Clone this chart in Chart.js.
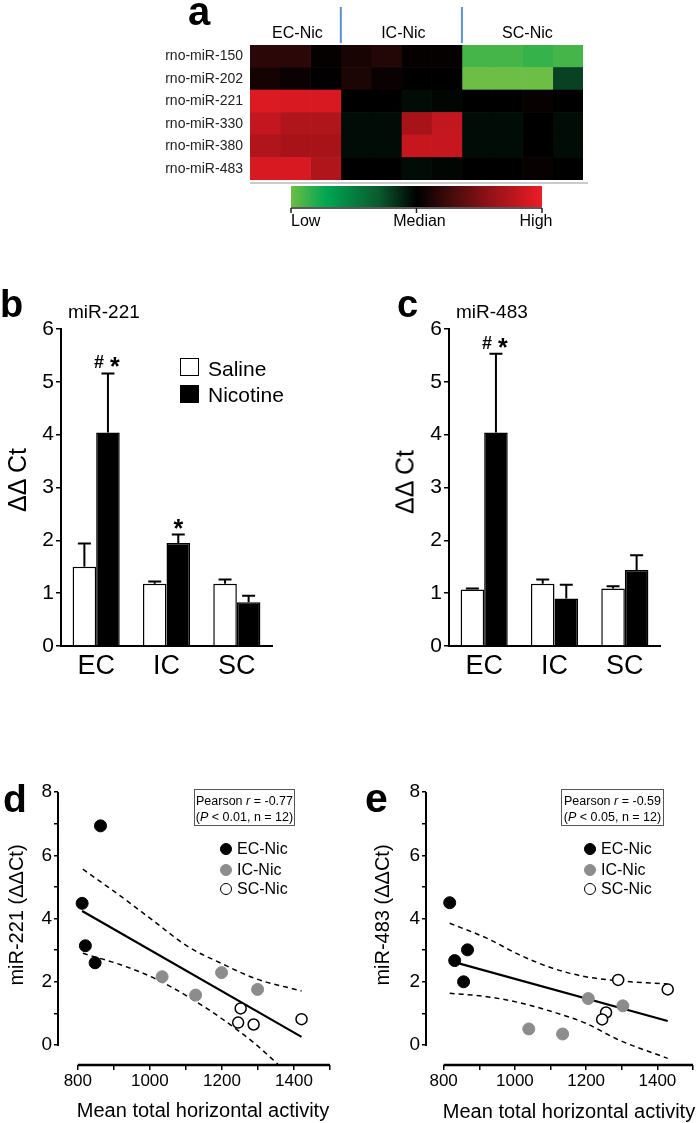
<!DOCTYPE html>
<html>
<head>
<meta charset="utf-8">
<title>miR-221 / miR-483 after nicotine</title>
<script src="https://cdn.jsdelivr.net/npm/chart.js@4.4.1/dist/chart.umd.min.js"></script>
<style>
  body { margin: 0; background: #fff; }
  #page { position: relative; width: 700px; height: 1123px; overflow: hidden;
          font-family: "Liberation Sans", Arial, Helvetica, sans-serif; color: #000; }
  #page canvas { position: absolute; }
  .t { position: absolute; white-space: nowrap; }
  .pbox { position: absolute; border: 1px solid #555; text-align: center; font-size: 12.5px;
          line-height: 16px; box-sizing: border-box; padding-top: 3px; white-space: nowrap; }
</style>
</head>
<body>
<div id="page">
  <canvas id="heat" width="500" height="235" style="left:100px;top:0px"></canvas>
  <canvas id="bar221" width="300" height="390" style="left:0px;top:300px"></canvas>
  <canvas id="bar483" width="330" height="390" style="left:360px;top:300px"></canvas>
  <canvas id="sc221" width="345" height="330" style="left:0px;top:770px"></canvas>
  <canvas id="sc483" width="340" height="330" style="left:360px;top:770px"></canvas>
</div>
<script>
// ---------- a: heatmap ----------
const mirnas = ['rno-miR-150', 'rno-miR-202', 'rno-miR-221', 'rno-miR-330', 'rno-miR-380', 'rno-miR-483'];
const heatGroups = ['EC-Nic', 'IC-Nic', 'SC-Nic'];
const heatGroupCols = [3, 4, 4];
// -1 = low, 0 = median, 1 = high (one value per column)
const heat150 = [0.18, 0.18, 0.02, 0.10, 0.14, 0.02, 0.02, -0.9, -0.9, -0.86, -0.9];
const heat202 = [0.08, 0.04, 0.01, 0.12, 0.04, 0, 0, -1, -1, -1, -0.22];
const heat221 = [0.92, 0.9, 0.9, 0, 0, -0.04, -0.02, 0, 0, 0.03, 0];
const heat330 = [0.8, 0.72, 0.72, -0.04, -0.04, 0.68, 0.8, -0.04, -0.04, 0, -0.04];
const heat380 = [0.72, 0.68, 0.68, -0.04, -0.04, 0.82, 0.82, -0.04, -0.04, 0, -0.04];
const heat483 = [0.9, 0.9, 0.72, 0, 0, -0.04, -0.02, 0, 0, 0.03, 0];
const heatScaleLabels = ['Low', 'Median', 'High'];

// ---------- b, c: bar charts ----------
const regions = ['EC', 'IC', 'SC'];
const barTicks = [0, 1, 2, 3, 4, 5, 6];
const b_saline = [1.50, 1.18, 1.18];
const b_salineSem = [0.44, 0.04, 0.08];
const b_nicotine = [4.04, 1.95, 0.83];
const b_nicotineSem = [1.12, 0.16, 0.12];
const b_marks = ['#*', '*', ''];
const c_saline = [1.07, 1.18, 1.09];
const c_salineSem = [0.02, 0.08, 0.04];
const c_nicotine = [4.04, 0.90, 1.44];
const c_nicotineSem = [1.49, 0.26, 0.28];
const c_marks = ['#*', '', ''];

// ---------- d, e: correlations ----------
const xTicks = [800, 900, 1000, 1100, 1200, 1300, 1400, 1500];
const xTickLabels = ['800', '', '1000', '', '1200', '', '1400', ''];
const yTicks = [0, 1, 2, 3, 4, 5, 6, 7, 8];
const yTickLabels = ['0', '', '2', '', '4', '', '6', '', '8'];

const d_ecX = [863, 812, 821, 848];
const d_ecY = [6.93, 4.48, 3.14, 2.60];
const d_icX = [1034, 1127, 1199, 1299];
const d_icY = [2.16, 1.58, 2.29, 1.76];
const d_scX = [1252, 1245, 1288, 1421];
const d_scY = [1.16, 0.71, 0.65, 0.82];
const d_fitX = [812, 1421];
const d_fitY = [4.24, 0.26];
const d_upperX = [814, 921, 1013, 1106, 1199, 1291, 1421];
const d_upperY = [5.56, 4.69, 3.90, 3.11, 2.58, 2.11, 1.71];
const d_lowerX = [814, 921, 1013, 1106, 1199, 1291, 1355];
const d_lowerY = [2.90, 2.53, 2.11, 1.53, 0.84, 0.05, -0.60];

const e_ecX = [817, 831, 867, 856];
const e_ecY = [4.50, 2.67, 3.01, 2.00];
const e_icX = [1039, 1134, 1206, 1303];
const e_icY = [0.51, 0.35, 1.47, 1.24];
const e_scX = [1290, 1429, 1256, 1245];
const e_scY = [2.06, 1.76, 1.03, 0.81];
const e_fitX = [817, 1429];
const e_fitY = [2.66, 0.76];
const e_upperX = [817, 921, 1013, 1106, 1199, 1292, 1429];
const e_upperY = [3.85, 3.38, 2.85, 2.43, 2.16, 2.03, 1.93];
const e_lowerX = [817, 921, 1013, 1106, 1199, 1292, 1429];
const e_lowerY = [1.64, 1.53, 1.34, 1.05, 0.69, 0.16, -0.42];

const FONT = '"Liberation Sans", Arial, Helvetica, sans-serif';
Chart.defaults.font.family = FONT;
Chart.defaults.color = '#000';

const page = document.getElementById('page');

// text placed by its baseline
function txt(html, x, base, size, o = {}) {
  const el = document.createElement('div');
  el.className = 't';
  el.innerHTML = html;
  el.style.fontSize = size + 'px';
  el.style.lineHeight = size + 'px';
  el.style.top = (base - 0.85 * size) + 'px';
  if (o.bold) el.style.fontWeight = 'bold';
  el.style.left = x + 'px';
  if (o.align === 'center') el.style.transform = 'translateX(-50%)';
  page.appendChild(el);
  return el;
}

// rotated text placed by its centre
function vtxt(html, cx, cy, size) {
  const el = document.createElement('div');
  el.className = 't';
  el.innerHTML = html;
  el.style.fontSize = size + 'px';
  el.style.lineHeight = size + 'px';
  el.style.left = cx + 'px';
  el.style.top = cy + 'px';
  el.style.transform = 'translate(-50%,-50%) rotate(-90deg)';
  page.appendChild(el);
}

// ---------- heatmap ----------
const heatStops = [[-1, '#6cbe45'], [-0.72, '#00a651'], [-0.3, '#0b5a2e'], [0, '#000000'],
                   [0.3, '#4a0c0c'], [0.55, '#8b1016'], [1, '#ee1c25']];

function hexRgb(h) { return [1, 3, 5].map(i => parseInt(h.slice(i, i + 2), 16)); }

function heatColor(v) {
  for (let i = 1; i < heatStops.length; i++) {
    const [v1, c1] = heatStops[i - 1];
    const [v2, c2] = heatStops[i];
    if (v <= v2) {
      const t = (v - v1) / (v2 - v1);
      const a = hexRgb(c1), b = hexRgb(c2);
      return 'rgb(' + a.map((c, k) => Math.round(c + (b[k] - c) * t)).join(',') + ')';
    }
  }
  return heatStops[heatStops.length - 1][1];
}

const heatValues = [heat150, heat202, heat221, heat330, heat380, heat483];
const heatColCount = heatGroupCols.reduce((a, b) => a + b, 0);
const heatDatasets = [];
for (let c = 0; c < heatColCount; c++) {
  heatDatasets.push({
    label: 'col ' + c,
    data: mirnas.map(() => 1),
    backgroundColor: heatValues.map(row => heatColor(row[c])),
    borderWidth: 0,
    categoryPercentage: 1,
    barPercentage: 1
  });
}

const heatExtras = {
  id: 'heatExtras',
  afterDraw(chart) {
    const { ctx, chartArea: a, scales: { x } } = chart;
    ctx.save();
    // group headers + separators
    let start = 0;
    heatGroups.forEach((g, i) => {
      const end = start + heatGroupCols[i];
      const x0 = x.getPixelForValue(start), x1 = x.getPixelForValue(end);
      ctx.font = '16px ' + FONT;
      ctx.fillStyle = '#000';
      ctx.textAlign = 'center';
      ctx.fillText(g, (x0 + x1) / 2 + (i === 2 ? 5 : 2), 38);
      if (i > 0) {
        ctx.strokeStyle = '#5b8fd0';
        ctx.lineWidth = 2;
        ctx.beginPath();
        ctx.moveTo(x0, 7);
        ctx.lineTo(x0, 43);
        ctx.stroke();
      }
      start = end;
    });
    // grey rule under the map
    ctx.strokeStyle = '#b8b8b8';
    ctx.lineWidth = 1.5;
    ctx.beginPath();
    ctx.moveTo(a.left, a.bottom + 3);
    ctx.lineTo(a.right + 5, a.bottom + 3);
    ctx.stroke();
    // colour key
    const bx0 = a.left + 41, bx1 = a.right - 41;
    const grad = ctx.createLinearGradient(bx0, 0, bx1, 0);
    heatStops.forEach(([v, c]) => grad.addColorStop((v + 1) / 2, c));
    ctx.fillStyle = grad;
    ctx.fillRect(bx0, a.bottom + 6, bx1 - bx0, 21);
    ctx.strokeStyle = '#222';
    ctx.lineWidth = 1.5;
    ctx.beginPath();
    ctx.moveTo(bx0, a.bottom + 28);
    ctx.lineTo(bx1, a.bottom + 28);
    [bx0, (bx0 + bx1) / 2, bx1].forEach(tx => {
      ctx.moveTo(tx, a.bottom + 28);
      ctx.lineTo(tx, a.bottom + 33);
    });
    ctx.stroke();
    ctx.fillStyle = '#000';
    ctx.font = '16px ' + FONT;
    ctx.textAlign = 'left';
    ctx.fillText(heatScaleLabels[0], bx0, a.bottom + 46);
    ctx.textAlign = 'center';
    ctx.fillText(heatScaleLabels[1], (bx0 + bx1) / 2 + 3, a.bottom + 46);
    ctx.fillText(heatScaleLabels[2], bx1 - 6, a.bottom + 46);
    ctx.restore();
  }
};

new Chart(document.getElementById('heat'), {
  type: 'bar',
  data: { labels: mirnas, datasets: heatDatasets },
  options: {
    indexAxis: 'y',
    responsive: false,
    animation: false,
    events: [],
    layout: { padding: { top: 45, right: 17, bottom: 55, left: 0 } },
    plugins: { legend: { display: false }, tooltip: { enabled: false } },
    scales: {
      x: { stacked: true, min: 0, max: heatColCount, display: false },
      y: {
        stacked: true,
        grid: { display: false, drawTicks: false },
        border: { display: false },
        ticks: { font: { size: 14 }, color: '#222', padding: 7 },
        afterFit: s => { s.width = 150; }
      }
    }
  },
  plugins: [heatExtras]
});

// ---------- bar charts ----------
const errorBars = {
  id: 'errorBars',
  afterDatasetsDraw(chart) {
    const { ctx, scales: { y } } = chart;
    ctx.save();
    ctx.strokeStyle = '#000';
    ctx.fillStyle = '#000';
    ctx.lineWidth = 2;
    chart.data.datasets.forEach((ds, i) => {
      chart.getDatasetMeta(i).data.forEach((bar, j) => {
        const top = y.getPixelForValue(ds.data[j] + ds.sem[j]);
        ctx.beginPath();
        ctx.moveTo(bar.x, bar.y);
        ctx.lineTo(bar.x, top);
        ctx.moveTo(bar.x - 6.5, top);
        ctx.lineTo(bar.x + 6.5, top);
        ctx.stroke();
        const mark = ds.marks ? ds.marks[j] : '';
        if (!mark) return;
        // significance signs sit ~12px above the whisker
        const cy = top - 12;
        const chars = mark.split('');
        const offs = chars.length > 1 ? [-9, 7] : [0];
        ctx.textAlign = 'center';
        chars.forEach((ch, k) => {
          if (ch === '#') {
            ctx.font = 'bold 18px ' + FONT;
            ctx.fillText(ch, bar.x + offs[k], cy + 7);
          } else {
            ctx.font = 'bold 25px ' + FONT;
            ctx.fillText(ch, bar.x + offs[k], cy + 14);
          }
        });
      });
    });
    ctx.restore();
  }
};

function barChart(id, yWidth, rightPad, saline, salineSem, nicotine, nicotineSem, marks) {
  return new Chart(document.getElementById(id), {
    type: 'bar',
    data: {
      labels: regions,
      datasets: [
        { label: 'Saline', data: saline, sem: salineSem, backgroundColor: '#fff', borderColor: '#000',
          borderWidth: 1.5, categoryPercentage: 0.67, barPercentage: 1 },
        { label: 'Nicotine', data: nicotine, sem: nicotineSem, marks: marks, backgroundColor: '#000',
          borderColor: '#000', borderWidth: 1.5, categoryPercentage: 0.67, barPercentage: 1 }
      ]
    },
    options: {
      responsive: false,
      animation: false,
      events: [],
      layout: { padding: { top: 29, right: rightPad, bottom: 0, left: 0 } },
      plugins: { legend: { display: false }, tooltip: { enabled: false } },
      scales: {
        x: {
          grid: { display: true, drawOnChartArea: false, drawTicks: false },
          border: { display: true, color: '#000', width: 2 },
          ticks: { font: { size: 27 }, color: '#000', padding: 4 },
          afterFit: s => { s.height = 44; }
        },
        y: {
          min: 0, max: 6,
          afterBuildTicks: s => { s.ticks = barTicks.map(v => ({ value: v })); },
          grid: { drawOnChartArea: false, color: '#000', lineWidth: 1.5, tickLength: 5 },
          border: { display: true, color: '#000', width: 2 },
          ticks: { font: { size: 21 }, color: '#000', padding: 2 },
          afterFit: s => { s.width = yWidth; }
        }
      }
    },
    plugins: [errorBars]
  });
}

const chartB = barChart('bar221', 61, 28, b_saline, b_salineSem, b_nicotine, b_nicotineSem, b_marks);
barChart('bar483', 89, 30, c_saline, c_salineSem, c_nicotine, c_nicotineSem, c_marks);

// bar legend (panel b)
chartB.data.datasets.forEach((ds, i) => {
  const box = document.createElement('div');
  box.style.cssText = 'position:absolute;box-sizing:border-box;width:19px;height:18px;border:1.5px solid #000;' +
    'left:180px;top:' + (358 + i * 27) + 'px;background:' + ds.backgroundColor;
  page.appendChild(box);
  txt(ds.label, 208, 376 + i * 26, 21);
});

// ---------- scatter charts ----------
function xy(xs, ys) { return xs.map((x, i) => ({ x: x, y: ys[i] })); }

const offsetAxes = {
  id: 'offsetAxes',
  afterDraw(chart) {
    const { ctx, chartArea: a, scales: { x, y } } = chart;
    ctx.save();
    ctx.strokeStyle = '#000';
    ctx.lineWidth = 2;
    ctx.beginPath();
    ctx.moveTo(a.left, y.getPixelForValue(yTicks[0]) + 1);
    ctx.lineTo(a.left, y.getPixelForValue(yTicks[yTicks.length - 1]));
    ctx.stroke();
    ctx.lineWidth = 2.5;
    ctx.beginPath();
    ctx.moveTo(x.getPixelForValue(xTicks[0]), a.bottom);
    ctx.lineTo(x.getPixelForValue(xTicks[xTicks.length - 1]), a.bottom);
    ctx.stroke();
    ctx.restore();
  }
};

function scatterChart(id, xMin, yWidth, rightPad, s) {
  const line = { showLine: true, pointRadius: 0, borderColor: '#000', fill: false, order: 1 };
  return new Chart(document.getElementById(id), {
    type: 'scatter',
    data: {
      datasets: [
        { label: 'EC-Nic', data: xy(s.ecX, s.ecY), backgroundColor: '#000', borderColor: '#000',
          borderWidth: 1, pointRadius: 6, order: 0 },
        { label: 'IC-Nic', data: xy(s.icX, s.icY), backgroundColor: '#8c8c8c', borderColor: '#8c8c8c',
          borderWidth: 1, pointRadius: 6, order: 0 },
        { label: 'SC-Nic', data: xy(s.scX, s.scY), backgroundColor: '#fff', borderColor: '#000',
          borderWidth: 1.5, pointRadius: 5.5, order: 0 },
        Object.assign({ label: 'fit', data: xy(s.fitX, s.fitY), borderWidth: 2.2 }, line),
        Object.assign({ label: 'upper 95%', data: xy(s.upperX, s.upperY), borderWidth: 1.5,
          borderDash: [5, 4], cubicInterpolationMode: 'monotone' }, line),
        Object.assign({ label: 'lower 95%', data: xy(s.lowerX, s.lowerY), borderWidth: 1.5,
          borderDash: [5, 4], cubicInterpolationMode: 'monotone' }, line)
      ]
    },
    options: {
      responsive: false,
      animation: false,
      events: [],
      layout: { padding: { top: 22, right: rightPad, bottom: 0, left: 0 } },
      plugins: { legend: { display: false }, tooltip: { enabled: false } },
      scales: {
        x: {
          type: 'linear', min: xMin, max: 1500, bounds: 'data',
          afterBuildTicks: sc => { sc.ticks = xTicks.map(v => ({ value: v })); },
          grid: { drawOnChartArea: false, color: '#000', lineWidth: 1.5, tickLength: 5 },
          border: { display: false },
          ticks: { font: { size: 17 }, color: '#000', padding: 1, autoSkip: false, maxRotation: 0,
                   callback: (v, i) => xTickLabels[i] },
          afterFit: sc => { sc.height = 35; }
        },
        y: {
          type: 'linear', min: -0.63, max: 8, bounds: 'data',
          afterBuildTicks: sc => { sc.ticks = yTicks.map(v => ({ value: v })); },
          grid: { drawOnChartArea: false, color: '#000', lineWidth: 1.5, tickLength: 4 },
          border: { display: false },
          ticks: { font: { size: 19 }, color: '#000', padding: 2, autoSkip: false,
                   callback: (v, i) => yTickLabels[i] },
          afterFit: sc => { sc.width = yWidth; }
        }
      }
    },
    plugins: [offsetAxes]
  });
}

const chartD = scatterChart('sc221', 745, 58, 15, {
  ecX: d_ecX, ecY: d_ecY, icX: d_icX, icY: d_icY, scX: d_scX, scY: d_scY,
  fitX: d_fitX, fitY: d_fitY, upperX: d_upperX, upperY: d_upperY, lowerX: d_lowerX, lowerY: d_lowerY
});
const chartE = scatterChart('sc483', 750.5, 66, 5, {
  ecX: e_ecX, ecY: e_ecY, icX: e_icX, icY: e_icY, scX: e_scX, scY: e_scY,
  fitX: e_fitX, fitY: e_fitY, upperX: e_upperX, upperY: e_upperY, lowerX: e_lowerX, lowerY: e_lowerY
});

function scatterLegend(chart, dotX) {
  const rows = [849, 870, 889];
  chart.data.datasets.slice(0, 3).forEach((ds, i) => {
    const dot = document.createElement('div');
    dot.style.cssText = 'position:absolute;box-sizing:border-box;width:12px;height:12px;border-radius:50%;' +
      'left:' + (dotX - 6) + 'px;top:' + (rows[i] - 6) + 'px;background:' + ds.backgroundColor +
      ';border:' + ds.borderWidth + 'px solid ' + ds.borderColor;
    page.appendChild(dot);
    txt(ds.label, dotX + 11, rows[i] + 6, 16);
  });
}
scatterLegend(chartD, 226);
scatterLegend(chartE, 590);

function pearsonBox(left, width, r, p) {
  const el = document.createElement('div');
  el.className = 'pbox';
  el.style.left = left + 'px';
  el.style.top = '789px';
  el.style.width = width + 'px';
  el.style.height = '37px';
  el.innerHTML = 'Pearson <i>r</i> = ' + r + '<br>(<i>P</i> &lt; ' + p + ', n = 12)';
  page.appendChild(el);
}
pearsonBox(194, 101, '-0.77', '0.01');
pearsonBox(561, 103, '-0.59', '0.05');

// ---------- panel text ----------
txt('a', 199, 25, 40, { bold: true, align: 'center' });
txt('b', 0, 317, 38, { bold: true });
txt('c', 397, 317, 38, { bold: true });
txt('d', 3, 812, 39, { bold: true });
txt('e', 365, 813, 41, { bold: true });

txt('miR-221', 68, 318, 19);
txt('miR-483', 456, 318, 19);
vtxt('&Delta;&Delta; Ct', 17, 480, 25);
vtxt('&Delta;&Delta; Ct', 405, 482, 25);

vtxt('miR-221 (&Delta;&Delta;Ct)', 16, 915, 20);
vtxt('miR-483 (&Delta;&Delta;Ct)', 382, 915, 20);
txt('Mean total horizontal activity', 203, 1117, 20, { align: 'center' });
txt('Mean total horizontal activity', 569, 1118, 20, { align: 'center' });
</script>
</body>
</html>
